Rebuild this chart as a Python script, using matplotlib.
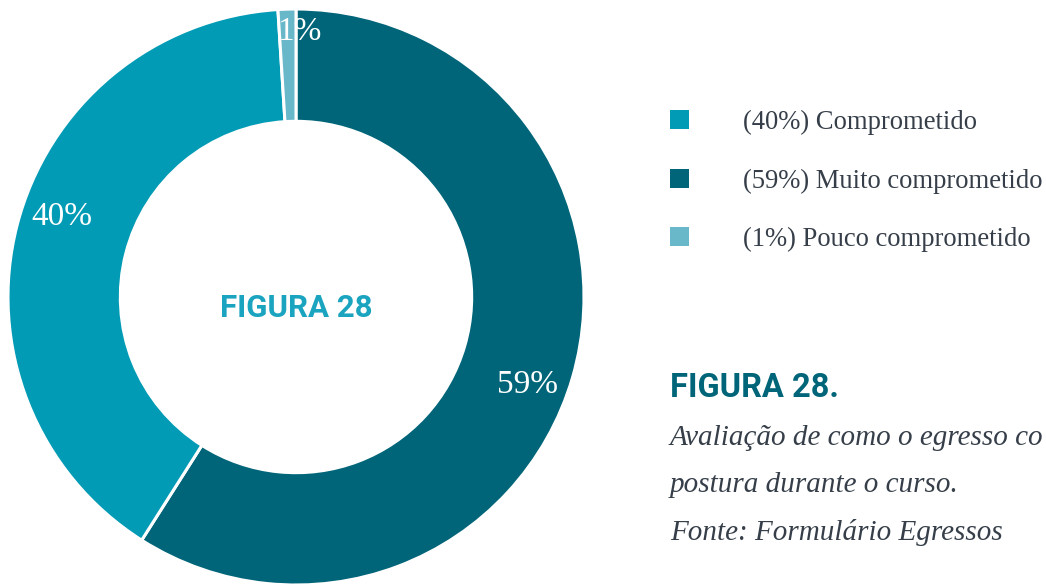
import numpy as np
import matplotlib.pyplot as plt
from matplotlib.patches import Rectangle

# Data
categories = ["Muito comprometido", "Comprometido", "Pouco comprometido"]
values = [59, 40, 1]
colors = ["#006578", "#019bb5", "#68b8ca"]
legend_order = [1, 0, 2]

text_color = "#363f49"

fig = plt.figure(figsize=(10.46, 5.87), dpi=100)
W, H = 1046, 587

# donut: centre (296, 297) px, radius 288 px
ax = fig.add_axes([8 / W, (H - 585) / H, 576 / W, 576 / H])
wedges, texts = ax.pie(
    values, colors=colors, startangle=90, counterclock=False, radius=1.0,
    wedgeprops=dict(width=0.39, edgecolor="white", linewidth=2.2),
)
# percent labels, nudged a bit clockwise like the original
for i, w in enumerate(wedges):
    ang = np.deg2rad((w.theta1 + w.theta2) / 2 - 4.5)
    x, y = 0.86 * np.cos(ang), 0.86 * np.sin(ang)
    if values[i] < 5:
        x, y = 0.01, 0.92
    ax.text(x, y, f"{values[i]}%", ha="center", va="center", color="white",
            family="Liberation Serif", fontsize=24)
ax.set_xlim(-1, 1)
ax.set_ylim(-1, 1)
ax.set_aspect("equal")
ax.axis("off")

ax.text(0, -0.068, "FIGURA 28", ha="center", va="baseline",
        family="Roboto", fontweight="bold", fontsize=22.5, color="#1ba4bf")

# legend
rows_y = [119.5, 178.5, 236.5]
for i, y in zip(legend_order, rows_y):
    fig.add_artist(Rectangle((670 / W, 1 - (y + 9.5) / H), 19 / W, 19 / H,
                             transform=fig.transFigure, facecolor=colors[i],
                             edgecolor="none"))
    fig.text(743 / W, 1 - (y + 9.5) / H, f"({values[i]}%) {categories[i]}",
             ha="left", va="baseline", family="Liberation Serif",
             fontsize=19.2, color=text_color)

# caption (first line is cut off in the original too)
fig.text(670 / W, 1 - 397 / H, "FIGURA 28.", ha="left", va="baseline",
         family="Roboto", fontweight="bold", fontsize=23.5, color="#006578")
caption = ["Avaliação de como o egresso co",
           "postura durante o curso.",
           "Fonte: Formulário Egressos"]
for line, yb in zip(caption, [445, 492, 540]):
    fig.text(670 / W, 1 - yb / H, line, ha="left", va="baseline",
             family="Liberation Serif", style="italic", fontsize=21,
             color=text_color)

fig.savefig("out.png", dpi=100)
